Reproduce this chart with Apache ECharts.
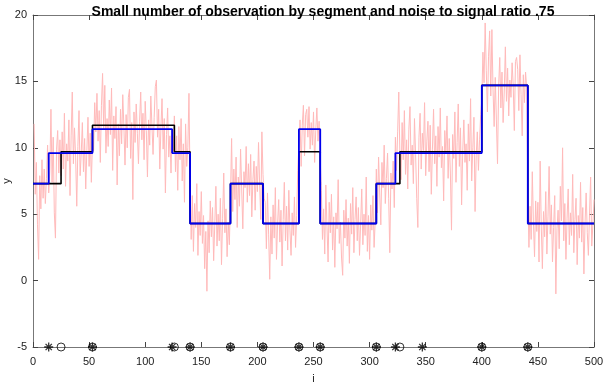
<!DOCTYPE html>
<html>
<head>
<meta charset="utf-8">
<script src="https://cdn.jsdelivr.net/npm/echarts@6.0.0/dist/echarts.min.js"></script>
<style>
  html, body { margin: 0; padding: 0; background: #fff; }
  #main { width: 604px; height: 384px; }
</style>
</head>
<body>
<div id="main"></div>
<script>
// noisy observations, i = 1..500
var noisy = [
  11.8, 6.5, 8.9, 4.2, 1.6, 7.9, 5.4, 9.1, 6.2, 8.4, 5.8, 7.7, 10.2, 6.6, 8.3,
  12.9, 7.4, 10.8, 5.1, 3.2, 9.9, 11.3, 8.1, 10.6, 7.9,
  11.2, 8.4, 12.6, 7.1, 10.3, 9.0, 12.1, 6.4, 10.9, 14.2, 8.8, 11.5, 9.3, 5.6,
  10.1, 12.8, 7.9, 9.6, 11.9, 8.2, 10.7, 6.9, 9.8, 12.3, 8.6, 11.1, 7.4, 10.4,
  9.8, 13.4, 11.2, 14.1, 10.5, 12.8, 8.9, 13.2, 15.6, 11.4, 14.7, 9.6, 12.2, 10.1, 13.6, 11.0, 14.5, 8.3, 12.4, 10.7,
  13.1, 7.2, 11.8, 9.4, 12.9, 10.3, 14.0, 11.6, 8.7, 12.5, 10.0, 13.8, 14.4, 9.2, 11.9, 6.1, 12.7, 10.4, 13.3, 11.1,
  8.8, 12.0, 14.2, 10.6, 12.6, 9.1, 13.5, 11.3, 7.8, 12.1, 10.2, 13.9, 11.7, 9.5, 12.3, 14.6, 15.1, 10.8, 12.9, 8.4,
  11.5, 13.7, 9.9, 12.2, 6.6, 11.0, 13.0, 9.3, 10.9, 8.1, 11.4, 9.7,
  12.4, 8.2, 10.9, 6.8, 11.6, 9.1, 12.2, 7.5, 10.3, 5.9, 11.8, 8.6, 10.0, 14.1, 7.2,
  3.1, 6.4, 2.2, 5.8, 4.0, 7.3, 1.9, 5.2, 3.4, 6.7, 2.8, 4.9, 0.9, 3.7, -0.8, 4.5, 2.1, 6.0, 3.3, 5.5,
  1.5, 4.2, 7.1, 2.6, 5.0, 3.0, 6.2, 1.2, 4.7, 8.1, 3.6, 5.4, 1.8, 4.4, 2.7, 6.3,
  10.7, 5.2, 8.4, 6.1, 9.3, 4.0, 7.8, 5.6, 9.9, 6.9, 3.9, 8.2, 7.0, 10.1, 5.9, 8.8, 6.4, 9.5, 4.8, 7.6,
  9.0, 5.3, 8.6, 6.7, 10.4, 7.2, 4.6, 11.2, 8.0, 6.2,
  5.9, 2.4, 6.6, 3.5, 0.1, 4.8, 2.0, 5.7, 3.2, 7.0, 1.6, 4.3, 6.1, 2.9, 5.3, 1.1, 4.6, 7.4, 3.0, 5.6,
  2.3, 6.8, 3.8, 1.9, 5.1, 3.4, 6.3, 2.5, 4.9, 8.3,
  10.3, 12.1, 8.6, 11.7, 13.2, 9.4, 12.5, 12.9, 10.8, 13.1, 9.9, 11.9, 10.2, 12.7, 8.9, 11.3, 13.0, 10.5, 12.0, 9.1,
  6.8, 3.1, 5.4, 2.0, 7.2, 4.1, 1.4, 5.9, 3.6, 6.5, 2.3, 4.8, 1.0, 5.1, 3.9, 7.6, 2.8, 4.4, 1.7, 0.4,
  5.3, 3.2, 6.1, 2.6, 4.7, 1.3, 5.8, 3.5, 7.0, 2.1, 4.6, 6.3, 3.0, 5.5, 1.9, 4.2, 6.9, 2.7, 5.0, 3.4,
  7.8, 2.2, 4.9, 1.6, 5.7, 3.8, 6.4, 2.5, 4.5,
  8.4, 5.1, 9.3, 6.6, 4.2, 8.9, 7.0, 10.2, 5.8, 7.7, 9.6, 6.2, 2.1, 8.1, 6.9, 9.0, 5.5, 10.8, 8.3, 11.2,
  14.2, 9.4,
  7.6, 11.9, 9.1, 12.8, 8.0, 10.6, 6.9, 11.4, 13.1, 8.7, 10.2, 7.3, 12.2, 9.5, 6.2, 4.0, 10.8, 12.6, 8.4, 11.1,
  9.8, 13.4, 7.9, 10.5, 12.0, 8.2, 11.7, 6.5, 9.9, 12.9, 8.8, 10.9, 7.1, 11.6, 9.3, 13.0, 8.5, 10.1, 6.0, 11.3,
  9.6, 12.4, 7.7, 10.7, 8.1, 3.8, 11.0, 9.2, 12.7, 7.4, 10.4, 13.3, 8.6, 11.5, 5.7, 9.7, 12.1, 8.9, 10.3, 6.8,
  11.8, 9.0, 13.7, 7.5, 10.0, 12.3, 5.2, 9.4, 11.2, 8.3, 10.6, 12.5,
  13.6, 17.2, 14.9, 19.4, 15.8, 12.7, 16.9, 18.8, 13.9, 18.9, 14.4, 11.6, 15.3, 12.1, 8.8, 14.6, 16.8, 13.0, 15.7, 11.9,
  14.2, 17.6, 13.5, 16.0, 12.4, 15.1, 13.8, 16.4, 14.7, 11.3, 16.5, 16.8, 15.9, 12.8, 17.0, 14.0, 10.9, 15.5, 13.4, 15.7,
  14.5,
  7.0, 2.5, 5.6, 3.1, 8.2, 4.4, 1.8, 6.0, 3.7, 5.9, 1.4, 9.0, 4.1, 0.9, 5.2, 3.3, 6.7, 2.0, 4.8, 8.6,
  3.5, 5.7, 1.4, 4.0, 6.4, -1.0, 3.9, 5.3, 2.4, 7.1, 4.5, 10.0, 3.0, 5.8, 1.6, 4.7, 6.9, 2.7, 5.1, 3.4,
  8.0, 2.1, 4.6, 6.2, 1.2, 4.9, 3.2, 7.4, 2.9, 5.5, 0.5, 4.3, 6.6, 3.6, 1.9, 5.0, 7.8, 2.6, 4.2, 6.1
];

// true piecewise-constant signal (black)
var trueBreaks = [0, 25, 53, 126, 140, 176, 205, 237, 256, 306, 327, 400, 441, 500];
var trueLevels = [7.3, 9.7, 11.7, 9.7, 4.3, 7.3, 4.3, 9.7, 4.3, 7.3, 9.7, 14.7, 4.3];

// estimated segmentation (blue)
var estBreaks = [0, 14, 53, 124, 140, 176, 205, 237, 256, 306, 323, 347, 400, 441, 500];
var estLevels = [7.3, 9.6, 11.4, 9.6, 4.3, 7.3, 4.3, 11.4, 4.3, 7.3, 9.6, 9.6, 14.7, 4.3];

// change points shown at the bottom
var starPoints = [14, 53, 124, 140, 176, 205, 237, 256, 306, 323, 347, 400, 441];
var circlePoints = [25, 53, 126, 140, 176, 205, 237, 256, 306, 327, 400, 441];
var markerY = -5;

function steps(breaks, levels) {
  var out = [];
  for (var k = 0; k < levels.length; k++) {
    out.push([breaks[k], levels[k]]);
    out.push([breaks[k + 1], levels[k]]);
  }
  return out;
}

var noisyData = noisy.map(function (v, idx) { return [idx + 1, v]; });
var starData = starPoints.map(function (x) { return [x, markerY]; });
var circleData = circlePoints.map(function (x) { return [x, markerY]; });

var asterisk = 'path://M5,0L5,10M0,5L10,5M1.5,1.5L8.5,8.5M1.5,8.5L8.5,1.5';

var chart = echarts.init(document.getElementById('main'), null, { renderer: 'canvas' });

var axisColor = '#777';
var txt = { color: '#222', fontSize: 11, fontFamily: 'Liberation Sans, Arial, sans-serif' };

var option = {
  animation: false,
  backgroundColor: '#fff',
  title: {
    text: 'Small number of observation by segment and noise to signal ratio .75',
    left: 318, top: 0, textAlign: 'center',
    textStyle: { fontSize: 14, fontWeight: 'bold', color: '#000', fontFamily: 'Liberation Sans, Arial, sans-serif' }
  },
  grid: { left: 33, right: 10, top: 15, bottom: 37, containLabel: false, outerBoundsMode: 'none' },
  xAxis: [{
    type: 'value', min: 0, max: 500, interval: 50,
    name: 'i', nameLocation: 'middle', nameGap: 26, nameMoveOverlap: false, nameTextStyle: txt,
    axisLine: { show: true, onZero: false, lineStyle: { color: axisColor, width: 1 } },
    axisTick: { show: true, inside: true, length: 5, lineStyle: { color: '#444' } },
    axisLabel: Object.assign({ margin: 9 }, txt),
    splitLine: { show: false }
  }, {
    type: 'value', min: 0, max: 500, interval: 50, position: 'top',
    axisLine: { show: true, onZero: false, lineStyle: { color: axisColor, width: 1 } },
    axisTick: { show: true, inside: true, length: 5, lineStyle: { color: '#444' } },
    axisLabel: { show: false }, splitLine: { show: false }
  }],
  yAxis: [{
    type: 'value', min: -5, max: 20, interval: 5,
    name: 'y', nameLocation: 'middle', nameGap: 21, nameMoveOverlap: false, nameTextStyle: txt,
    axisLine: { show: true, onZero: false, lineStyle: { color: axisColor, width: 1 } },
    axisTick: { show: true, inside: true, length: 5, lineStyle: { color: '#444' } },
    axisLabel: Object.assign({ margin: 6 }, txt),
    splitLine: { show: false }
  }, {
    type: 'value', min: -5, max: 20, interval: 5, position: 'right',
    axisLine: { show: true, onZero: false, lineStyle: { color: axisColor, width: 1 } },
    axisTick: { show: true, inside: true, length: 5, lineStyle: { color: '#444' } },
    axisLabel: { show: false }, splitLine: { show: false }
  }],
  series: [{
    type: 'line', data: noisyData, symbol: 'none', z: 1,
    lineStyle: { color: '#ffbaba', width: 1 }
  }, {
    type: 'line', data: steps(trueBreaks, trueLevels), symbol: 'none', z: 2,
    lineStyle: { color: '#000', width: 1.6 }
  }, {
    type: 'line', data: steps(estBreaks, estLevels), symbol: 'none', z: 3,
    lineStyle: { color: '#0000ee', width: 1.8 }
  }, {
    type: 'scatter', data: starData, symbol: asterisk, symbolSize: 9, clip: false, z: 4,
    itemStyle: { color: 'rgba(0,0,0,0)', borderColor: '#000', borderWidth: 1.3 }
  }, {
    type: 'scatter', data: circleData, symbol: 'circle', symbolSize: 8, clip: false, z: 4,
    itemStyle: { color: 'rgba(0,0,0,0)', borderColor: '#000', borderWidth: 1 }
  }]
};

chart.setOption(option);
</script>
</body>
</html>
